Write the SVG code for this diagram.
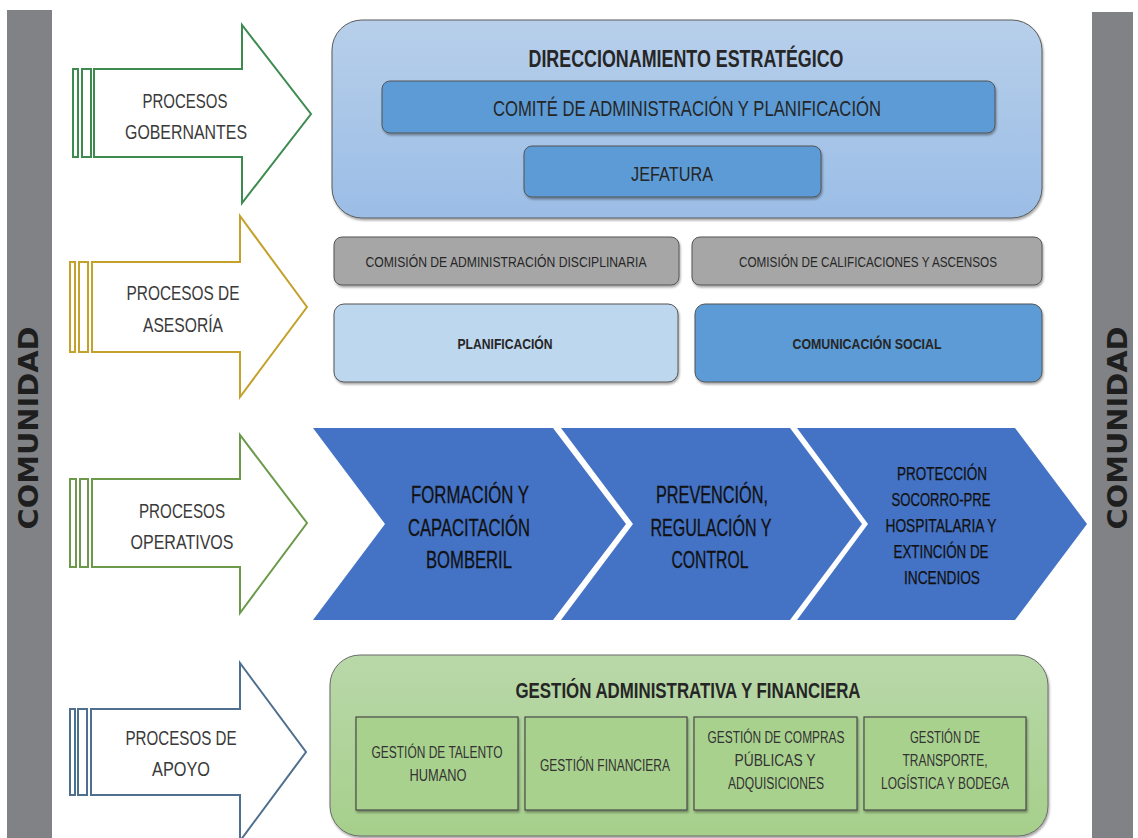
<svg xmlns="http://www.w3.org/2000/svg" width="1138" height="838" viewBox="0 0 1138 838">
<defs>
<linearGradient id="gBlue" x1="0" y1="0" x2="0" y2="1"><stop offset="0" stop-color="#b7cfea"/><stop offset="1" stop-color="#9bbde6"/></linearGradient>
<linearGradient id="gGreen" x1="0" y1="0" x2="0" y2="1"><stop offset="0" stop-color="#b9d8a9"/><stop offset="1" stop-color="#a6cf8b"/></linearGradient>
<filter id="sh" x="-5%" y="-5%" width="110%" height="120%"><feDropShadow dx="1" dy="2" stdDeviation="1.2" flood-color="#000" flood-opacity="0.35"/></filter>
</defs>
<style>
.t{font-family:"Liberation Sans",Arial,sans-serif;text-anchor:middle;fill:#262626}
.lab{font-size:21px;fill:#3a3a3a}
.com{font-family:"DejaVu Sans",sans-serif;font-weight:bold;font-size:27px;fill:#1e1e1e;text-anchor:middle}
.bar{fill:#808285}
.ar{fill:#fff;stroke-width:2}
.bx{stroke:#555;stroke-width:1}
.chev{fill:#4472c4}
.ct{font-size:24px;fill:#111;stroke:#111;stroke-width:0.3}
.ct3{font-size:18px;fill:#111;stroke:#111;stroke-width:0.25}
.sub{fill:#a9d18e;stroke:#4a4a4a;stroke-width:1.2}
.st{font-size:16px;fill:#333}
</style>
<g id="comunidad-left"><rect class="bar" x="7" y="10" width="45" height="828"/><text class="com" transform="translate(38,428) rotate(-90)" textLength="203" lengthAdjust="spacingAndGlyphs">COMUNIDAD</text></g>
<g id="comunidad-right"><rect class="bar" x="1092" y="12" width="41" height="826"/><text class="com" transform="translate(1127,428) rotate(-90)" textLength="203" lengthAdjust="spacingAndGlyphs">COMUNIDAD</text></g>

<g id="arrow-gobernantes" stroke="#3d8b4f">
<rect class="ar" x="73" y="69" width="5" height="88"/><rect class="ar" x="82" y="69" width="9" height="88"/>
<path class="ar" d="M94,69 H242 V25 L311,114 L242,203 V157 H94 Z"/>
<text class="t lab" x="185" y="108" stroke="none" textLength="85" lengthAdjust="spacingAndGlyphs">PROCESOS</text>
<text class="t lab" x="186" y="139" stroke="none" textLength="122" lengthAdjust="spacingAndGlyphs">GOBERNANTES</text>
</g>
<g id="arrow-asesoria" stroke="#c4a12a">
<rect class="ar" x="70" y="262" width="5" height="90"/><rect class="ar" x="79" y="262" width="9" height="90"/>
<path class="ar" d="M92,262 H240 V216 L307,307 L240,397 V352 H92 Z"/>
<text class="t lab" x="183" y="300" stroke="none" textLength="113" lengthAdjust="spacingAndGlyphs">PROCESOS DE</text>
<text class="t lab" x="183" y="332" stroke="none" textLength="80" lengthAdjust="spacingAndGlyphs">ASESORÍA</text>
</g>
<g id="arrow-operativos" stroke="#6a9a4a">
<rect class="ar" x="70" y="479" width="6" height="88"/><rect class="ar" x="80" y="479" width="8" height="88"/>
<path class="ar" d="M92,479 H240 V435 L307,523 L240,613 V567 H92 Z"/>
<text class="t lab" x="182" y="518" stroke="none" textLength="86" lengthAdjust="spacingAndGlyphs">PROCESOS</text>
<text class="t lab" x="182" y="549" stroke="none" textLength="103" lengthAdjust="spacingAndGlyphs">OPERATIVOS</text>
</g>
<g id="arrow-apoyo" stroke="#4f6f8f">
<rect class="ar" x="70" y="709" width="5" height="86"/><rect class="ar" x="78" y="709" width="9" height="86"/>
<path class="ar" d="M91,709 H240 V663 L306,752 L240,841 V795 H91 Z"/>
<text class="t lab" x="181" y="745" stroke="none" textLength="111" lengthAdjust="spacingAndGlyphs">PROCESOS DE</text>
<text class="t lab" x="181" y="776" stroke="none" textLength="58" lengthAdjust="spacingAndGlyphs">APOYO</text>
</g>

<g id="direccionamiento">
<rect x="332" y="20" width="710" height="198" rx="30" fill="url(#gBlue)" stroke="#5a5a5a" stroke-width="1" filter="url(#sh)"/>
<text class="t" x="686" y="67" font-size="23" font-weight="bold" fill="#111" textLength="315" lengthAdjust="spacingAndGlyphs">DIRECCIONAMIENTO ESTRATÉGICO</text>
</g>
<g id="comite">
<rect class="bx" x="382" y="81" width="613" height="52" rx="8" fill="#5b9bd5" filter="url(#sh)"/>
<text class="t" x="687" y="116" font-size="22" fill="#1a1a1a" textLength="388" lengthAdjust="spacingAndGlyphs">COMITÉ DE ADMINISTRACIÓN Y PLANIFICACIÓN</text>
</g>
<g id="jefatura">
<rect class="bx" x="524" y="146" width="297" height="51" rx="8" fill="#5b9bd5" filter="url(#sh)"/>
<text class="t" x="672" y="181" font-size="21" fill="#1a1a1a" textLength="82" lengthAdjust="spacingAndGlyphs">JEFATURA</text>
</g>
<g id="comision-disciplinaria">
<rect class="bx" x="334" y="237" width="345" height="48" rx="8" fill="#a6a6a6" filter="url(#sh)"/>
<text class="t" x="506" y="267" font-size="15" fill="#333" textLength="281" lengthAdjust="spacingAndGlyphs">COMISIÓN DE ADMINISTRACIÓN DISCIPLINARIA</text>
</g>
<g id="comision-calificaciones">
<rect class="bx" x="692" y="237" width="350" height="48" rx="8" fill="#a6a6a6" filter="url(#sh)"/>
<text class="t" x="868" y="267" font-size="15" fill="#333" textLength="258" lengthAdjust="spacingAndGlyphs">COMISIÓN DE CALIFICACIONES Y ASCENSOS</text>
</g>
<g id="planificacion">
<rect class="bx" x="334" y="304" width="344" height="78" rx="10" fill="#bdd7ee" filter="url(#sh)"/>
<text class="t" x="505" y="349" font-size="15" font-weight="bold" fill="#1a1a1a" textLength="95" lengthAdjust="spacingAndGlyphs">PLANIFICACIÓN</text>
</g>
<g id="comunicacion-social">
<rect class="bx" x="695" y="304" width="347" height="78" rx="10" fill="#5b9bd5" filter="url(#sh)"/>
<text class="t" x="867" y="349" font-size="15" font-weight="bold" fill="#1a1a1a" textLength="149" lengthAdjust="spacingAndGlyphs">COMUNICACIÓN SOCIAL</text>
</g>

<g id="formacion">
<path class="chev" d="M313,428 H553 L626,524 L553,620 H313 L385,524 Z"/>
<text class="t ct" x="470" y="503" textLength="118" lengthAdjust="spacingAndGlyphs">FORMACIÓN Y</text>
<text class="t ct" x="469" y="536" textLength="122" lengthAdjust="spacingAndGlyphs">CAPACITACIÓN</text>
<text class="t ct" x="469" y="568" textLength="86" lengthAdjust="spacingAndGlyphs">BOMBERIL</text>
</g>
<g id="prevencion">
<path class="chev" d="M561,428 H790 L862,524 L790,620 H561 L633,524 Z"/>
<text class="t ct" x="712" y="503" textLength="112" lengthAdjust="spacingAndGlyphs">PREVENCIÓN,</text>
<text class="t ct" x="711" y="536" textLength="121" lengthAdjust="spacingAndGlyphs">REGULACIÓN Y</text>
<text class="t ct" x="710" y="568" textLength="77" lengthAdjust="spacingAndGlyphs">CONTROL</text>
</g>
<g id="proteccion">
<path class="chev" d="M797,428 H1015 L1087,524 L1015,620 H797 L868,524 Z"/>
<text class="t ct3" x="942" y="480" textLength="90" lengthAdjust="spacingAndGlyphs">PROTECCIÓN</text>
<text class="t ct3" x="941" y="506" textLength="99" lengthAdjust="spacingAndGlyphs">SOCORRO-PRE</text>
<text class="t ct3" x="941" y="532" textLength="111" lengthAdjust="spacingAndGlyphs">HOSPITALARIA Y</text>
<text class="t ct3" x="941" y="558" textLength="95" lengthAdjust="spacingAndGlyphs">EXTINCIÓN DE</text>
<text class="t ct3" x="942" y="584" textLength="76" lengthAdjust="spacingAndGlyphs">INCENDIOS</text>
</g>

<g id="gestion-administrativa">
<rect x="330" y="655" width="718" height="181" rx="30" fill="url(#gGreen)" stroke="#6a6a6a" stroke-width="1" filter="url(#sh)"/>
<text class="t" x="688" y="698" font-size="22" font-weight="bold" fill="#111" textLength="345" lengthAdjust="spacingAndGlyphs">GESTIÓN ADMINISTRATIVA Y FINANCIERA</text>
</g>
<g id="talento-humano">
<rect class="sub" x="356" y="717" width="162" height="93" filter="url(#sh)"/>
<text class="t st" x="437" y="758" textLength="131" lengthAdjust="spacingAndGlyphs">GESTIÓN DE TALENTO</text>
<text class="t st" x="438" y="781" textLength="57" lengthAdjust="spacingAndGlyphs">HUMANO</text>
</g>
<g id="gestion-financiera">
<rect class="sub" x="525" y="717" width="162" height="93" filter="url(#sh)"/>
<text class="t st" x="605" y="771" textLength="130" lengthAdjust="spacingAndGlyphs">GESTIÓN FINANCIERA</text>
</g>
<g id="compras-publicas">
<rect class="sub" x="694" y="717" width="163" height="93" filter="url(#sh)"/>
<text class="t st" x="776" y="743" textLength="137" lengthAdjust="spacingAndGlyphs">GESTIÓN DE COMPRAS</text>
<text class="t st" x="775" y="766" textLength="81" lengthAdjust="spacingAndGlyphs">PÚBLICAS Y</text>
<text class="t st" x="776" y="789" textLength="96" lengthAdjust="spacingAndGlyphs">ADQUISICIONES</text>
</g>
<g id="transporte">
<rect class="sub" x="864" y="717" width="162" height="93" filter="url(#sh)"/>
<text class="t st" x="945" y="743" textLength="70" lengthAdjust="spacingAndGlyphs">GESTIÓN DE</text>
<text class="t st" x="945" y="766" textLength="85" lengthAdjust="spacingAndGlyphs">TRANSPORTE,</text>
<text class="t st" x="945" y="789" textLength="128" lengthAdjust="spacingAndGlyphs">LOGÍSTICA Y BODEGA</text>
</g>
<g id="connectors"/>
</svg>
